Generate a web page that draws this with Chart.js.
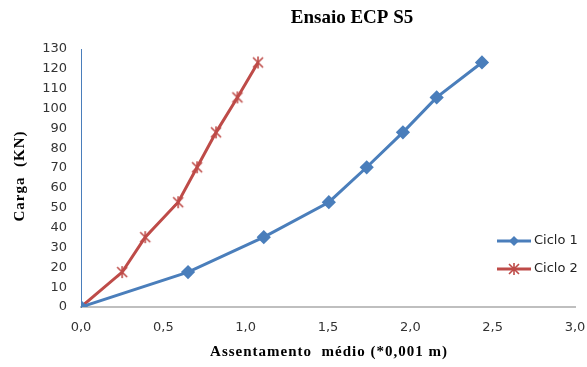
<!DOCTYPE html>
<html>
<head>
<meta charset="utf-8">
<script src="https://cdn.jsdelivr.net/npm/chart.js@4"></script>
<style>
  html, body { margin: 0; padding: 0; background: #fff; }
  #wrap { width: 587px; height: 367px; }
</style>
</head>
<body>
<div id="wrap"><canvas id="myChart"></canvas></div>
<script>
// carga (kN) e assentamento medio (*0,001 m)
const carga = [0, 17.6, 35.2, 52.8, 70.4, 88, 105.6, 123.2];
const ciclo1 = [0, 0.65, 1.11, 1.505, 1.735, 1.955, 2.16, 2.435];
const ciclo2 = [0, 0.25, 0.39, 0.59, 0.705, 0.82, 0.95, 1.075];
const xTicks = [0, 0.5, 1, 1.5, 2, 2.5, 3];
const yTicks = [0, 10, 20, 30, 40, 50, 60, 70, 80, 90, 100, 110, 120, 130];

const blue = "#4A7EBB";
const red = "#BE4B48";

// asterisco tipo Excel (X com barra vertical)
function starMarker(color) {
  const c = document.createElement("canvas");
  c.width = 14;
  c.height = 14;
  const g = c.getContext("2d");
  g.strokeStyle = color;
  g.lineWidth = 1.6;
  g.beginPath();
  g.moveTo(2, 2); g.lineTo(12, 12);
  g.moveTo(12, 2); g.lineTo(2, 12);
  g.moveTo(7, 1); g.lineTo(7, 13);
  g.stroke();
  return c;
}
const star = starMarker(red);

const titles = {
  id: "titles",
  afterDraw(chart) {
    const g = chart.ctx;
    g.save();
    g.fillStyle = "#000";
    g.textAlign = "center";
    g.textBaseline = "middle";
    g.font = "bold 19px 'Liberation Serif'";
    g.fillText("Ensaio ECP S5", 352, 18);
    g.font = "bold 15px 'Liberation Serif'";
    g.letterSpacing = "1px";
    g.fillText("Assentamento  médio (*0,001 m)", 329, 352);
    g.translate(20, 176);
    g.rotate(-Math.PI / 2);
    g.fillText("Carga  (KN)", 0, 0);
    g.restore();

    // legenda
    g.save();
    g.font = "13px 'DejaVu Sans'";
    g.textBaseline = "middle";
    g.textAlign = "left";
    chart.data.datasets.forEach((ds, i) => {
      const y = 241 + i * 28;
      g.strokeStyle = ds.borderColor;
      g.lineWidth = 3;
      g.beginPath();
      g.moveTo(497, y);
      g.lineTo(531, y);
      g.stroke();
      if (i === 0) {
        g.fillStyle = blue;
        g.beginPath();
        g.moveTo(514, y - 5); g.lineTo(519, y); g.lineTo(514, y + 5); g.lineTo(509, y);
        g.closePath();
        g.fill();
      } else {
        g.drawImage(star, 507, y - 7);
      }
      g.fillStyle = "#222";
      g.fillText(ds.label, 534, y);
    });
    g.restore();
  },
};

const ctx = document.getElementById("myChart").getContext("2d");
const myChart = new Chart(ctx, {
  type: "line",
  data: {
    datasets: [
      {
        label: "Ciclo 1",
        data: ciclo1.map((x, i) => ({ x: x, y: carga[i] })),
        borderColor: blue,
        backgroundColor: blue,
        borderWidth: 3,
        pointStyle: "rectRot",
        pointRadius: 5,
        pointHoverRadius: 5,
        tension: 0,
      },
      {
        label: "Ciclo 2",
        data: ciclo2.map((x, i) => ({ x: x, y: carga[i] })),
        borderColor: red,
        backgroundColor: red,
        borderWidth: 3,
        pointStyle: star,
        pointRadius: 7,
        tension: 0,
      },
    ],
  },
  options: {
    responsive: true,
    maintainAspectRatio: false,
    animation: false,
    events: [],
    layout: { padding: { left: 0, right: 12, top: 49, bottom: 0 } },
    plugins: {
      legend: { display: false },
      title: { display: false },
      tooltip: { enabled: false },
    },
    scales: {
      x: {
        type: "linear",
        min: 0,
        max: 3,
        afterFit(s) {
          s.height = 60;
          s.paddingRight = 0;
          s.paddingLeft = 0;
        },
        afterBuildTicks(s) { s.ticks = xTicks.map((v) => ({ value: v })); },
        grid: { display: false, drawTicks: false },
        border: { color: "#BFBFBF", width: 2 },
        ticks: {
          padding: 13,
          color: "#333",
          font: { family: "DejaVu Sans", size: 13 },
          callback: (v) => v.toFixed(1).replace(".", ","),
        },
      },
      y: {
        min: 0,
        max: 130,
        afterFit(s) {
          s.width = 81;
          s.paddingTop = 0;
          s.paddingBottom = 0;
        },
        afterBuildTicks(s) { s.ticks = yTicks.map((v) => ({ value: v })); },
        grid: { display: false, drawTicks: false },
        border: { color: "#4A7EBB", width: 1 },
        ticks: {
          padding: 14,
          color: "#333",
          font: { family: "DejaVu Sans", size: 13 },
        },
      },
    },
  },
  plugins: [titles],
});
</script>
</body>
</html>
